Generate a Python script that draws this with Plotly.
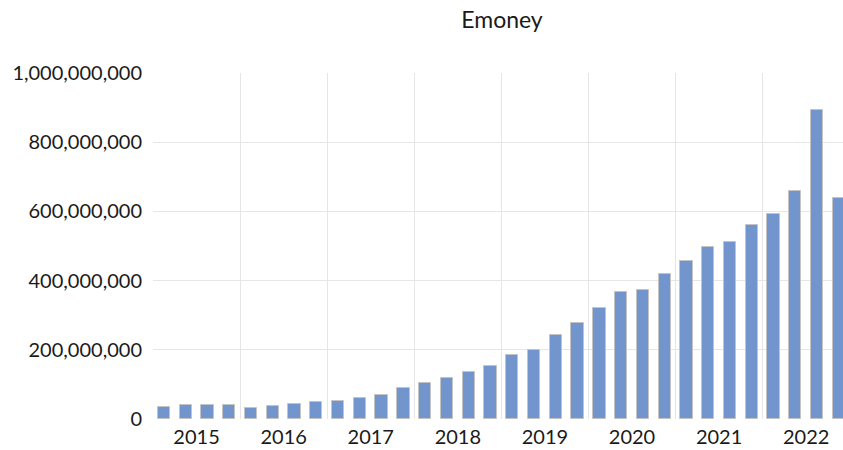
import plotly.graph_objects as go

years = ["2015", "2016", "2017", "2018", "2019", "2020", "2021", "2022"]
quarters = [f"{y}Q{q}" for y in years for q in range(1, 5)]
values_millions = [36, 39.5, 39.5, 39.5, 33, 36.5, 42, 48,
                   52, 60.5, 69, 91, 103, 118, 135, 153,
                   186, 198, 243, 278, 320, 368, 374, 419,
                   456, 496, 511, 560, 592, 660, 893, 640]
y_ticks = [0, 200_000_000, 400_000_000, 600_000_000, 800_000_000, 1_000_000_000]

values = [v * 1_000_000 for v in values_millions]
xpos = list(range(len(quarters)))
year_centers = [i * 4 + 1.5 for i in range(len(years))]
year_bounds = [i * 4 + 3.5 for i in range(len(years))]

fig = go.Figure(go.Bar(
    x=xpos, y=values, customdata=quarters,
    width=0.565,
    marker=dict(color="#7395CD", line=dict(color="#C4C4C4", width=1)),
    hovertemplate="%{customdata}: %{y:,}<extra></extra>",
))

font = "Lato, 'Open Sans', sans-serif"
fig.update_layout(
    width=843, height=450,
    margin=dict(l=152.5, r=0, t=72.5, b=31.4, autoexpand=False),
    paper_bgcolor="white", plot_bgcolor="white",
    font=dict(family=font, size=20, color="#1a1a1a"),
    title=dict(text="Emoney", x=502/843, xanchor="center", xref="container",
               y=1 - 20/450, yanchor="middle", yref="container",
               font=dict(family=font, size=23, color="#1a1a1a")),
    showlegend=False,
    bargap=0,
)
fig.update_xaxes(
    range=[-0.5, 31.19], automargin=False,
    tickmode="array", tickvals=year_centers, ticktext=years,
    showgrid=False, zeroline=False, showline=False, ticks="",
    ticklabelstandoff=4,
    minor=dict(tickmode="array", tickvals=year_bounds, showgrid=True,
               gridcolor="#E6E6E6", gridwidth=1, ticks=""),
)
fig.update_yaxes(
    range=[0, 1_000_000_000], automargin=False,
    tickmode="array", tickvals=y_ticks, tickformat=",d",
    showgrid=True, gridcolor="#E6E6E6", gridwidth=1,
    zeroline=False, showline=False, ticks="", ticklabelstandoff=10,
)
fig.write_html("out.html", config={"displayModeBar": False},
               post_script="document.body.style.margin='0px';document.body.style.overflow='hidden';")
